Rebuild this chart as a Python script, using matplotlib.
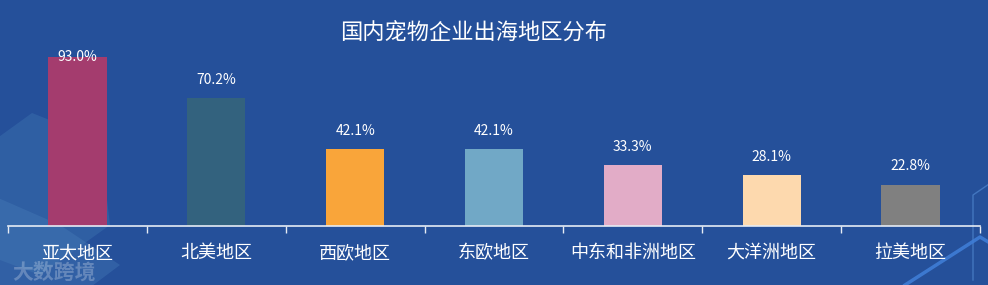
import numpy as np
import matplotlib.pyplot as plt
from matplotlib.patches import Polygon

plt.rcParams['font.family'] = ['Noto Sans CJK SC', 'DejaVu Sans']

title = '国内宠物企业出海地区分布'
regions = ['亚太地区', '北美地区', '西欧地区', '东欧地区', '中东和非洲地区', '大洋洲地区', '拉美地区']
shares = [93.0, 70.2, 42.1, 42.1, 33.3, 28.1, 22.8]
bar_colors = ['#a43c6e', '#33627e', '#f9a53a', '#71a8c6', '#e2acc7', '#fdd9ae', '#808080']

bg = '#25509a'
W, H = 988, 285

fig = plt.figure(figsize=(W / 100, H / 100), dpi=100, facecolor=bg)

# background decorations (figure pixel coords, y up)
deco = fig.add_axes([0, 0, 1, 1], zorder=0)
deco.set_xlim(0, W)
deco.set_ylim(0, H)
deco.axis('off')
hex_left = [(-40, 120), (32, 172), (100, 145), (110, 60), (40, 10), (-40, 40)]
deco.add_patch(Polygon(hex_left, closed=True, fc='#3c72b0', alpha=0.45, ec='none'))
deco.add_patch(Polygon([(-20, 95), (60, 60), (120, 20), (80, -10), (-20, 0)], closed=True,
                       fc='#4a80bb', alpha=0.35, ec='none'))
deco.plot([995, 973, 973], [105, 90, 5], color='#4a7fc8', lw=1, alpha=0.8)
deco.plot([905, 980, 1000], [0, 48, 36], color='#3f7dd6', lw=2.5, alpha=0.9)
deco.text(12, 13, '大数跨境', fontsize=15, color='white', alpha=0.25, va='center', ha='left',
          fontweight='bold')

ax = fig.add_axes([8 / W, (H - 226) / H, 972 / W, (226 - 44) / H], zorder=1)
ax.set_facecolor('none')
x = np.arange(len(regions))
ax.bar(x, shares, width=0.42, color=bar_colors, zorder=2)
ax.set_xlim(-0.5, len(regions) - 0.5)
ax.set_ylim(0, 100)

for xi, v in zip(x, shares):
    if v > 85:
        ax.text(xi, v, f'{v:.1f}%', ha='center', va='center', color='white', fontsize=10)
    else:
        ax.annotate(f'{v:.1f}%', (xi, v), xytext=(0, 13), textcoords='offset points',
                    ha='center', va='center', color='white', fontsize=10)

for s in ['top', 'right', 'left']:
    ax.spines[s].set_visible(False)
ax.spines['bottom'].set_color('#e6ecf5')
ax.spines['bottom'].set_linewidth(1.2)
ax.set_yticks([])
ax.set_xticks(np.arange(len(regions) + 1) - 0.5, minor=True)
ax.tick_params(axis='x', which='minor', length=5, color='#e6ecf5', width=1, direction='out')
ax.set_xticks(x)
ax.set_xticklabels(regions, color='white', fontsize=13)
ax.tick_params(axis='x', which='major', length=0, pad=13)

fig.text(474 / W, 1 - 33 / H, title, ha='center', va='center', color='white', fontsize=16)

fig.savefig('out.png', dpi=100, facecolor=bg)
